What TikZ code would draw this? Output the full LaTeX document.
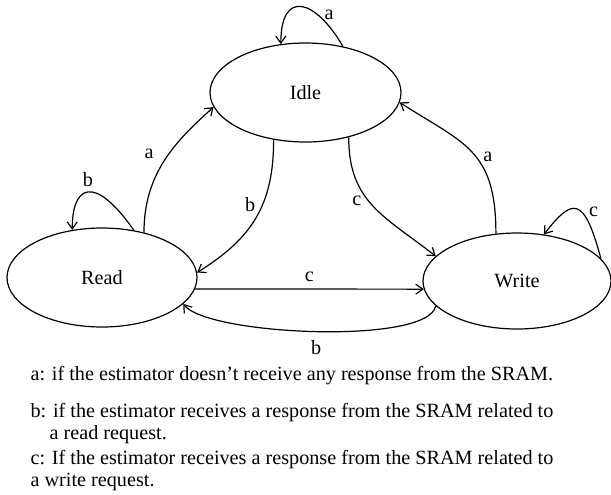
\documentclass[tikz,border=0pt]{standalone}
\usepackage{fontspec}
\setmainfont{Liberation Serif}
\usetikzlibrary{shapes.geometric,arrows.meta}
\begin{document}
\begin{tikzpicture}[x=0.5pt, y=0.5pt, line width=0.6pt,
        every node/.style={font=\fontsize{10.1}{11}\selectfont},
        fsmstate/.style={draw, ellipse, inner sep=0pt},
        tr/.style={-{Straight Barb[length=3.5pt,width=5pt]}},
        key/.style={anchor=base west, align=left, inner xsep=0pt}]
    \useasboundingbox (0,0) rectangle (611,-494);
    \node[fsmstate, minimum width=95.5pt, minimum height=49.5pt] (idle) at (305.5,-92.5) {Idle};
    \node[fsmstate, minimum width=95pt, minimum height=49.5pt] (read) at (102,-277.5) {Read};
    \node[fsmstate, minimum width=94pt, minimum height=48pt] (write) at (517,-281) {Write};
    \draw[tr] (idle.51) .. controls +(120:55) and +(90:55) .. node[pos=0.3, right] {a} (idle.117);
    \draw[tr] (read.56) .. controls +(125:70) and +(90:44) .. node[pos=0.5, above=-1pt] {b} (read.122);
    \draw[tr] (write.15) .. controls +(105:65) and +(52:47) .. node[pos=0.4, right] {c} (write.60);
    \draw[tr] (read.47) .. controls +(90:60) and +(222:50) .. node[pos=0.55, left=4pt] {a} (idle.189);
    \draw[tr] (idle.236) .. controls +(270:65) and +(32:65) .. node[pos=0.4, left] {b} (read.3);
    \draw[tr] (idle.314) .. controls +(270:65) and +(142:65) .. node[pos=0.45, left] {c} (write.163);
    \draw[tr] (write.114) .. controls +(90:85) and +(327:75) .. node[pos=0.45, right] {a} (idle.354);
    \draw[tr] (read.-7.7) -- node[above] {c} (write.185.6);
    \draw[tr] (write.197.6) .. controls +(260:40) and +(308:40) .. node[below=1pt] {b} (read.-18.3);
    \node[key] (keya) at (30,-380.5) {a: if the estimator doesn’t receive any response from the SRAM.};
    \node[key] (keyb) at (30,-439.5) {b: if the estimator receives a response from the SRAM related to\\\hspace*{9.5pt}a read request.};
    \node[key] (keyc) at (30,-486.5) {c: If the estimator receives a response from the SRAM related to\\a write request.};
\end{tikzpicture}
\end{document}
